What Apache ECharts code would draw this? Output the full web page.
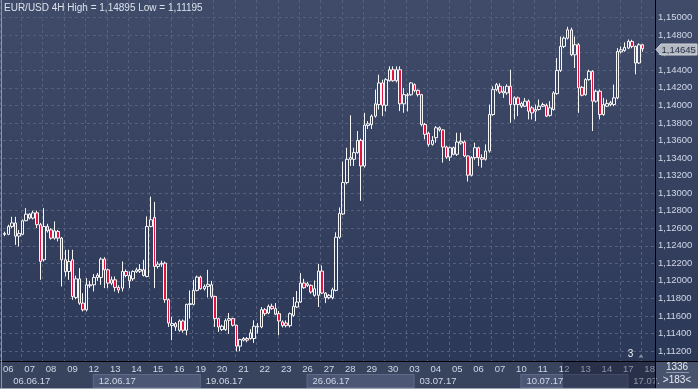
<!DOCTYPE html>
<html><head><meta charset="utf-8">
<script src="https://cdn.jsdelivr.net/npm/echarts@6/dist/echarts.min.js"></script>
<style>html,body{margin:0;padding:0;background:#2e3a58;}#c{width:698px;height:389px;}</style>
</head><body><div id="c"></div>
<script>
// ---- data ----
const symbolName = 'EUR/USD 4H';
const dayLabels = ['06','07','08','09','12','13','14','15','16','19','20','21','22','23','26','27','28','29','30','03','04','05','06','07','10','11','12','13','14','17','18'];
const weekLabels = ['06.06.17','12.06.17','19.06.17','26.06.17','03.07.17','10.07.17','17.07.'];
const weekStartDay = [0,4,9,14,19,24,29];
const open = [
1.1253,1.1253,1.1262,1.1266,1.1251,1.1253,1.12685,1.1276,1.12715,1.12775,
1.1264,1.1224,1.1262,1.12582,1.12487,1.12563,1.12487,1.1224,1.12107,1.1224,
1.11811,1.12023,1.11746,1.1167,1.11955,1.11955,1.12039,1.12039,1.12248,1.12126,
1.11974,1.12012,1.11925,1.11917,1.12107,1.12061,1.12023,1.12104,1.1211,1.12126,
1.1205,1.1262,1.12723,1.12164,1.1219,1.12202,1.11785,1.1149,1.11513,1.11437,
1.11543,1.11437,1.1173,1.11732,1.11891,1.12043,1.1191,1.11937,1.11956,1.11823,
1.1157,1.11445,1.11445,1.11551,1.1157,1.11494,1.11256,1.11324,1.11343,1.11343,
1.11343,1.11475,1.11475,1.11672,1.11634,1.1171,1.11683,1.11626,1.11532,1.1152,
1.1149,1.11607,1.11702,1.11759,1.11975,1.11948,1.11948,1.11835,1.11835,1.12111,
1.11861,1.11808,1.11808,1.11891,1.12497,1.12762,1.1312,1.13385,1.13385,1.13461,
1.136,1.13309,1.1377,1.1378,1.13877,1.14009,1.14255,1.14,1.1428,1.14406,
1.1428,1.14406,1.14017,1.1411,1.1412,1.14236,1.1417,1.14122,1.13782,1.1368,
1.13555,1.13631,1.13744,1.1372,1.13525,1.1341,1.13517,1.13442,1.1357,1.13582,
1.13423,1.13204,1.13404,1.13517,1.13404,1.13385,1.1348,1.13895,1.14179,1.14217,
1.14141,1.14141,1.14217,1.14009,1.14085,1.1399,1.1399,1.14047,1.13971,1.13933,
1.13952,1.1399,1.14,1.13885,1.13952,1.14133,1.14398,1.14671,1.14765,1.1486,
1.14576,1.1469,1.14205,1.14122,1.14293,1.14387,1.14047,1.1416,1.13895,1.1399,
1.14009,1.14009,1.14085,1.1461,1.14625,1.14652,1.14728,1.14671,1.14482,1.1469];
const close = [
1.1254,1.1262,1.1266,1.1251,1.1254,1.12685,1.1276,1.12715,1.12775,1.1264,
1.12221,1.1262,1.1257,1.12487,1.1257,1.12487,1.1224,1.12107,1.1222,1.11822,
1.12023,1.11746,1.1167,1.11955,1.11944,1.12039,1.12066,1.12248,1.12126,1.11974,
1.12012,1.11925,1.11895,1.12107,1.12061,1.1200,1.12107,1.12126,1.1213,1.12061,
1.1262,1.12696,1.12164,1.12191,1.1220,1.11785,1.1152,1.11513,1.11475,1.11543,
1.11437,1.11732,1.1174,1.11891,1.12043,1.1191,1.11937,1.1196,1.11823,1.1157,
1.11475,1.11483,1.11547,1.1157,1.11494,1.11256,1.11331,1.11343,1.11324,1.11407,
1.11483,1.11483,1.11672,1.11626,1.1171,1.11683,1.1162,1.11543,1.1149,1.1149,
1.11626,1.1171,1.11759,1.11975,1.11922,1.11967,1.11873,1.1191,1.12111,1.11861,
1.11808,1.11835,1.11899,1.12497,1.12769,1.1312,1.13385,1.13404,1.13461,1.136,
1.13309,1.13775,1.1379,1.13877,1.14017,1.14255,1.14,1.14292,1.14406,1.1428,
1.14406,1.14017,1.14122,1.1412,1.14255,1.1417,1.14122,1.13782,1.13669,1.13555,
1.136,1.13744,1.13722,1.13525,1.1341,1.13517,1.13442,1.13582,1.1359,1.13423,
1.13204,1.13404,1.13517,1.13404,1.13385,1.1348,1.13896,1.14179,1.14236,1.1415,
1.1416,1.14217,1.14009,1.14085,1.14009,1.1402,1.14047,1.13933,1.13914,1.13952,
1.1399,1.14009,1.13877,1.13971,1.14141,1.14398,1.14671,1.14765,1.1486,1.14576,
1.1469,1.14198,1.14115,1.14293,1.14387,1.14047,1.1416,1.13895,1.14009,1.1402,
1.1403,1.14085,1.14614,1.14633,1.1466,1.14728,1.14671,1.14482,1.1469,1.14645];
const low = [
1.1251,1.1252,1.1260,1.1241,1.1239,1.1252,1.1268,1.1270,1.1270,1.12601,
1.12012,1.1222,1.1255,1.1247,1.1247,1.1245,1.11936,1.1205,1.12012,1.11784,
1.1179,1.11727,1.11651,1.11651,1.1192,1.11879,1.1200,1.11955,1.11917,1.11917,
1.1195,1.11879,1.1186,1.11879,1.1204,1.11917,1.1200,1.1209,1.1209,1.1205,
1.1204,1.1261,1.11917,1.1214,1.1216,1.1175,1.11475,1.11324,1.1143,1.1142,
1.1141,1.1138,1.1157,1.1172,1.1188,1.1190,1.1189,1.1181,1.118,1.11475,
1.11418,1.1143,1.1143,1.11395,1.1148,1.11195,1.1120,1.1131,1.1130,1.1133,
1.11293,1.114,1.1146,1.1160,1.1162,1.1167,1.1161,1.1138,1.1147,1.1147,
1.1147,1.1159,1.1169,1.1175,1.1191,1.1193,1.11853,1.1182,1.11702,1.1185,
1.11747,1.1179,1.1179,1.1188,1.1248,1.1275,1.131,1.13309,1.13309,1.1345,
1.12912,1.1329,1.1373,1.1373,1.1386,1.13952,1.13877,1.1393,1.1427,1.1427,
1.1426,1.13934,1.13915,1.1393,1.1411,1.1415,1.1410,1.1376,1.13612,1.1353,
1.1354,1.13574,1.137,1.13347,1.1339,1.13366,1.1343,1.13423,1.1355,1.1341,
1.13131,1.1319,1.1338,1.13309,1.1329,1.1337,1.1346,1.1388,1.1416,1.1413,
1.14085,1.1412,1.13801,1.13839,1.13877,1.1397,1.1398,1.13839,1.13839,1.1382,
1.1394,1.1398,1.13865,1.1387,1.1394,1.1412,1.1438,1.14652,1.1475,1.1456,
1.14425,1.13914,1.14103,1.1411,1.1428,1.13707,1.1403,1.13839,1.1388,1.1398,
1.1399,1.1399,1.1407,1.1459,1.1461,1.1464,1.1465,1.14353,1.1447,1.1461];
const high = [
1.1256,1.1264,1.1273,1.1273,1.1258,1.1270,1.12829,1.12772,1.1280,1.1280,
1.1266,1.12829,1.1265,1.1260,1.12677,1.1258,1.1250,1.12354,1.12354,1.12354,
1.1206,1.12145,1.1186,1.12031,1.1200,1.12077,1.1209,1.12267,1.1227,1.1214,
1.1205,1.1205,1.1195,1.12221,1.1213,1.12107,1.1212,1.1215,1.12191,1.1224,
1.12734,1.1296,1.1290,1.1222,1.1223,1.1222,1.118,1.1159,1.1153,1.1156,
1.1156,1.1174,1.11891,1.12012,1.1206,1.1206,1.1196,1.12126,1.1200,1.1183,
1.1158,1.115,1.1157,1.11634,1.1158,1.115,1.1134,1.1136,1.1136,1.11449,
1.11551,1.1152,1.11702,1.1169,1.1173,1.1174,1.11747,1.11657,1.1155,1.1155,
1.1164,1.11816,1.11884,1.12088,1.12024,1.1199,1.1196,1.12005,1.12194,1.12175,
1.1187,1.1185,1.11922,1.12553,1.12837,1.13359,1.13517,1.13887,1.13517,1.13707,
1.1362,1.13915,1.1382,1.13896,1.14179,1.14349,1.14292,1.1431,1.14444,1.14444,
1.14444,1.14444,1.14198,1.1414,1.14265,1.1425,1.1418,1.1413,1.1380,1.137,
1.1365,1.13763,1.1376,1.1373,1.1354,1.1353,1.1353,1.13688,1.13688,1.1360,
1.1343,1.1342,1.13574,1.1353,1.13442,1.13555,1.14009,1.14217,1.14255,1.1425,
1.14217,1.1424,1.14406,1.14103,1.141,1.1404,1.14085,1.14066,1.1399,1.14009,
1.14066,1.1403,1.1402,1.14047,1.1416,1.14538,1.14784,1.14784,1.14895,1.14885,
1.14784,1.14709,1.1422,1.1431,1.14406,1.144,1.1418,1.1418,1.14085,1.14066,
1.1405,1.14236,1.14652,1.14671,1.14718,1.1475,1.14747,1.1468,1.14708,1.147];
const priceMin = 1.110, priceMax = 1.152, priceStep = 0.002;

// ---- layout ----
const FONT = '"Liberation Sans", Arial, sans-serif';
const TXT = '#d0d7e6';
const slotCount = 183;            // visible bar slots
const firstDaySlot = 1;
const slots = Array.from({length: slotCount}, (_, i) => String(i));
const daySlot = d => firstDaySlot + 6 * d;
const dayBySlot = {};
dayLabels.forEach((l, d) => { dayBySlot[daySlot(d)] = l; });
const weekBySlot = {};
weekLabels.forEach((l, k) => { weekBySlot[daySlot(weekStartDay[k])] = {text: l, k: k}; });
const ohlc = open.map((o, i) => [o, close[i], low[i], high[i]]);
const fmt = v => v.toFixed(5).replace('.', ',');
const hi = Math.max.apply(null, high), lo = Math.min.apply(null, low);
const lastClose = close[close.length - 1];

const chart = echarts.init(document.getElementById('c'), null, {renderer: 'canvas', width: 698, height: 389});
const dash = {color: '#55617c', type: [3, 3], width: 1};

function decor(tagY) {
  const els = [
    {type: 'rect', z: -10, silent: true, shape: {x: 0, y: 0, width: 698, height: 389},
      style: {fill: new echarts.graphic.LinearGradient(0, 0, 0, 1, [{offset: 0, color: '#3f4b68'}, {offset: 1, color: '#2b3756'}])}},
    {type: 'rect', z: 1, silent: true, shape: {x: 0, y: 361, width: 655, height: 28}, style: {fill: '#38435e'}},
    {type: 'rect', z: 1, silent: true, shape: {x: 655, y: 361, width: 43, height: 28}, style: {fill: '#47526d'}},
    {type: 'rect', z: 8, silent: true, shape: {x: 563, y: 362, width: 92, height: 26}, style: {fill: 'rgba(12,18,34,0.35)'}},
    {type: 'line', z: 9, silent: true, shape: {x1: 655.5, y1: 0, x2: 655.5, y2: 389}, style: {stroke: '#000', lineWidth: 1}},
    {type: 'line', z: 9, silent: true, shape: {x1: 0, y1: 361.5, x2: 698, y2: 361.5}, style: {stroke: '#000', lineWidth: 1}},
    {type: 'line', z: 9, silent: true, shape: {x1: 1.5, y1: 0, x2: 1.5, y2: 389}, style: {stroke: '#8d97ab', lineWidth: 1}},
    {type: 'line', z: 9, silent: true, shape: {x1: 0, y1: 388.5, x2: 698, y2: 388.5}, style: {stroke: '#9aa3b6', lineWidth: 1}},
    {type: 'text', z: 9, silent: true, style: {text: symbolName + ' High = ' + fmt(hi) + ' Low = ' + fmt(lo), x: 4, y: 8.5, fill: '#dbe1ec', font: '10px ' + FONT, textAlign: 'left', textVerticalAlign: 'middle'}},
    {type: 'text', z: 9, silent: true, style: {text: '1336', x: 677, y: 367.5, fill: '#e6eaf2', font: '10px ' + FONT, textAlign: 'center', textVerticalAlign: 'middle'}},
    {type: 'line', z: 9, silent: true, shape: {x1: 666, y1: 372.5, x2: 689, y2: 372.5}, style: {stroke: '#8e97aa', lineWidth: 1}},
    {type: 'text', z: 9, silent: true, style: {text: '>183<', x: 677, y: 380, fill: '#e6eaf2', font: '10px ' + FONT, textAlign: 'center', textVerticalAlign: 'middle'}},
    {type: 'text', z: 9, silent: true, style: {text: '3', x: 630.5, y: 354, fill: '#eef2f8', font: '10px ' + FONT, textAlign: 'center', textVerticalAlign: 'middle'}},
    {type: 'polygon', z: 9, silent: true, shape: {points: [[638.5, 357.5], [643.5, 357.5], [641, 354.5]]}, style: {fill: '#8a93a6'}}
  ];
  if (tagY != null) {
    els.push({type: 'polygon', z: 9, silent: true,
      shape: {points: [[656, tagY], [661, tagY - 5.5], [697, tagY - 5.5], [697, tagY + 5.5], [661, tagY + 5.5]]},
      style: {fill: '#b5b9c2', stroke: '#d2d5db', lineWidth: 1}});
    els.push({type: 'text', z: 10, silent: true, style: {text: fmt(lastClose), x: 661.5, y: tagY + 0.5, fill: '#26304a', font: '9.5px ' + FONT, textAlign: 'left', textVerticalAlign: 'middle'}});
  }
  return els;
}

const option = {
  animation: false,
  grid: [
    {left: 0, right: 43, top: -1.63, bottom: 20.37, show: false},
    {left: -18.27, right: 43, top: 0, bottom: 28, show: false}
  ],
  xAxis: [
    {type: 'category', gridIndex: 0, data: slots, position: 'bottom', offset: -7.63, boundaryGap: true, z: 5,
      axisLine: {show: false}, axisTick: {show: false}, splitLine: {show: false},
      axisLabel: {interval: (i) => dayBySlot[i] !== undefined, formatter: (v, i) => dayBySlot[i] || '',
        showMinLabel: true, showMaxLabel: true,
        color: TXT, fontSize: 9.5, fontFamily: FONT, margin: 3, lineHeight: 10}},
    {type: 'category', gridIndex: 0, data: slots, position: 'bottom', offset: -7.63, boundaryGap: true, z: 5,
      axisLine: {show: false}, axisTick: {show: false}, splitLine: {show: false},
      axisLabel: {interval: (i) => weekBySlot[i] !== undefined, align: 'left', margin: 14,
        showMinLabel: true, showMaxLabel: true,
        formatter: (v, i) => { const w = weekBySlot[i]; if (!w) return ''; return '{' + (w.k % 2 ? 'hb' : 'lb') + '|' + w.text + '}'; },
        rich: {
          hb: {backgroundColor: '#4b5775', borderColor: '#5e6a88', borderWidth: 1, width: 101, height: 12, lineHeight: 12, padding: [0, 0, 0, 5], color: TXT, fontSize: 9.5, fontFamily: FONT},
          lb: {width: 60, height: 12, lineHeight: 12, padding: [0, 0, 0, 5], color: TXT, fontSize: 9.5, fontFamily: FONT}
        }}},
    {type: 'value', gridIndex: 1, min: 0, max: 673.27 / 21.97, interval: 1,
      axisLine: {show: false}, axisTick: {show: false}, axisLabel: {show: false},
      splitLine: {show: true, lineStyle: dash}}
  ],
  yAxis: [
    {type: 'value', gridIndex: 0, position: 'right', min: priceMin, max: priceMax, interval: priceStep,
      axisLine: {show: false}, axisTick: {show: false},
      axisLabel: {formatter: v => fmt(v), color: TXT, fontSize: 9.5, fontFamily: FONT, margin: 3, showMinLabel: false, showMaxLabel: false},
      splitLine: {show: true, showMinLine: false, showMaxLine: false, lineStyle: dash}},
    {type: 'value', gridIndex: 1, show: false}
  ],
  series: [{
    type: 'candlestick', xAxisIndex: 0, yAxisIndex: 0, data: ohlc, barWidth: 3,
    itemStyle: {color: 'rgba(0,0,0,0)', color0: '#e4123f', borderColor: '#f6f6f6', borderColor0: '#f6f6f6', borderWidth: 1}
  }],
  graphic: decor(null)
};
chart.setOption(option);
const tagY = Math.round(chart.convertToPixel({yAxisIndex: 0}, lastClose)) + 0.5;
chart.setOption({graphic: decor(tagY)}, {replaceMerge: ['graphic']});
</script></body></html>
